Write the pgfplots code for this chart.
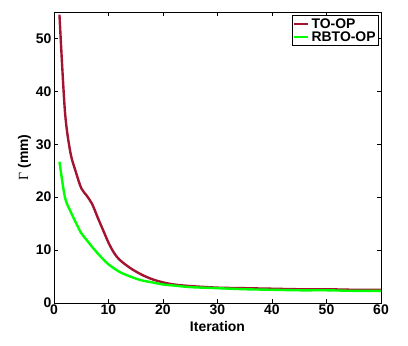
\documentclass[border=0pt]{standalone}
\usepackage{pgfplots}
\pgfplotsset{compat=1.18}
\usepackage{fontspec}
\setmainfont{Liberation Sans}
\newfontfamily\serifgreek{Liberation Serif}
\definecolor{toop}{RGB}{162,20,47}
\definecolor{rbtoop}{RGB}{0,255,0}
\begin{document}
\begin{tikzpicture}[x=1bp,y=1bp]
\begin{axis}[
    scale only axis,
    width=327bp, height=291bp,
    xmin=0, xmax=60, ymin=0, ymax=55,
    xtick={0,10,...,60}, ytick={0,10,...,50},
    tick align=inside,
    major tick length=4bp,
    tick style={black, line width=0.5pt},
    axis line style={black, line width=1pt},
    font=\fontsize{14}{15}\selectfont\bfseries,
    /pgf/number format/assume math mode=true,
    xlabel={Iteration},
    ylabel={{\serifgreek\mdseries Γ} (mm)},
    xlabel style={yshift=0bp},
    ylabel style={yshift=-2bp},
    xticklabel style={yshift=2bp},
    yticklabel style={xshift=1bp},
    legend style={at={(0.994,0.99)}, anchor=north east, draw=black, line width=0.8pt,
        inner sep=1bp, row sep=-2bp, font=\fontsize{14}{15}\selectfont\bfseries},
    legend cell align=left,
    legend image code/.code={\draw[#1] (0bp,0bp) -- (14bp,0bp);},
]
\addplot[color=toop, line width=2.4pt, smooth] coordinates {
(1, 54.5) (2, 36.3) (3, 28.5) (4, 24.8) (5, 21.7) (6, 20.3) (7, 18.7)
(8, 16.2) (9, 13.8) (10, 11.4) (11, 9.5) (12, 8.2) (14, 6.6) (16, 5.4)
(18, 4.5) (20, 3.9) (22, 3.5) (25, 3.2) (30, 2.9) (35, 2.8) (40, 2.7)
(45, 2.6) (50, 2.6) (55, 2.5) (60, 2.5)
};
\addplot[color=rbtoop, line width=2.4pt, smooth] coordinates {
(1, 26.7) (2, 20.0) (3, 17.4) (4, 15.2) (5, 13.2) (6, 11.9) (7, 10.6)
(8, 9.4) (9, 8.3) (10, 7.3) (12, 5.9) (14, 5.0) (16, 4.3) (18, 3.9)
(20, 3.5) (22, 3.3) (25, 3.0) (30, 2.8) (35, 2.6) (40, 2.5) (45, 2.4)
(50, 2.4) (55, 2.3) (60, 2.3)
};
\legend{TO-OP, RBTO-OP}
\end{axis}
\path (-54bp,-43bp) rectangle (354bp,303bp);
\end{tikzpicture}
\end{document}
